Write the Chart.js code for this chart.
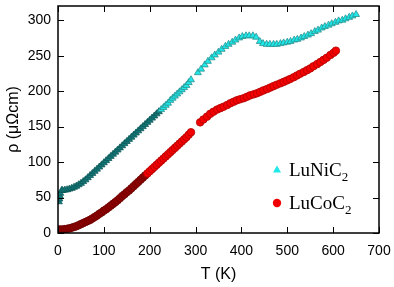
<!DOCTYPE html>
<html>
<head>
<meta charset="utf-8">
<script src="https://cdn.jsdelivr.net/npm/chart.js@4/dist/chart.umd.min.js"></script>
<style>
  html, body { margin: 0; padding: 0; background: #fff; }
  #wrap { width: 394px; height: 287px; }
</style>
</head>
<body>
<div id="wrap"><canvas id="rho"></canvas></div>
<script>
// resistivity vs temperature
var niT = [2, 3, 4, 5, 8, 10, 15, 20, 25, 30, 35, 40, 45, 50, 55, 60, 65, 70, 75, 80, 85, 90, 95, 100,
	105, 110, 115, 120, 125, 130, 135, 140, 145, 150, 155, 160, 165, 170, 175, 180, 185, 190, 195, 200,
	205, 210, 215, 220, 225, 230, 235, 240, 245, 250, 255, 260, 265, 270, 275, 280, 285, 290,
	305, 312, 320, 327, 335, 342, 350, 357, 365, 372, 380, 387, 395, 402, 410, 417, 425, 432, 440, 447,
	455, 462, 470, 477, 485, 492, 500, 507, 515, 522, 530, 537, 545, 552, 560, 567, 575, 582, 590, 597,
	605, 612, 620, 627, 635, 642, 650];
var niRho = [44, 48, 52, 56, 60, 60, 60.5, 61, 62, 63, 64.5, 66, 68, 70, 72.5, 75, 78, 81, 84, 87, 90, 93, 96, 99,
	102, 105, 108, 111, 114, 117, 120, 123, 126, 129, 132, 135, 138, 141, 144, 147, 150, 153, 156, 159,
	162, 165, 168, 171, 174, 177, 180, 183, 187, 190, 193, 196, 199, 202, 205, 208, 212, 216,
	226, 231, 237, 242, 247, 251, 255, 259, 263, 266, 269, 272, 275, 277, 278, 278, 278, 276, 270, 267,
	266, 266, 266, 266, 267, 268, 269, 270, 272, 273, 275, 277, 279, 281, 284, 286, 289, 291, 293, 295,
	297, 299, 300, 302, 304, 306, 308];

var coT = [0, 5, 10, 15, 20, 25, 30, 35, 40, 45, 50, 55, 60, 65, 70, 75, 80, 85, 90, 95, 100,
	105, 110, 115, 120, 125, 130, 135, 140, 145, 150, 155, 160, 165, 170, 175, 180, 185, 190, 195, 200,
	205, 210, 215, 220, 225, 230, 235, 240, 245, 250, 255, 260, 265, 270, 275, 280, 285, 290,
	310, 317, 325, 332, 339, 347, 354, 361, 369, 376, 383, 390, 397, 405, 412, 419, 427, 434, 441, 448,
	456, 463, 470, 477, 485, 492, 499, 506, 514, 521, 528, 536, 543, 550, 557, 565, 572, 579, 586, 594,
	601, 606];
var coRho = [5, 5, 5, 5.5, 6, 6.5, 7.5, 8.5, 9.5, 11, 12.5, 14, 15.5, 17, 18.5, 20.5, 22.5, 24.5, 27, 29, 31.5,
	33.5, 36, 38.5, 41, 43.5, 46, 49, 52, 54.5, 57.5, 60, 63, 66, 69, 72, 75, 78, 81, 84, 87,
	90, 93, 96, 99, 102, 105, 108, 111, 114, 117, 120, 123, 126, 129, 132, 135, 138.5, 142,
	156, 160, 164, 168, 171, 174, 176, 178, 180.5, 183, 185, 187, 188.5, 190, 192, 194, 195.5, 197, 199, 201,
	203, 205, 207, 209, 211, 213, 215, 217, 219.5, 222, 224.5, 227, 229.5, 232, 235, 238, 241, 244, 247, 251,
	254, 257];

var xTicks = [0, 100, 200, 300, 400, 500, 600, 700];
var yTicks = [0, 50, 100, 150, 200, 250, 300];

function pts(t, r) {
	var out = [];
	for (var i = 0; i < t.length; i++) out.push({ x: t[i], y: r[i] });
	return out;
}

// low T part is drawn darker (dense overlapping markers in the original)
function shade(dark, light, cut) {
	return function (ctx) {
		var p = ctx.raw;
		if (!p) return light;
		return p.x < cut ? dark : light;
	};
}

// gnuplot style frame with inward ticks on all four sides
var framePlugin = {
	id: 'frame',
	afterDatasetsDraw: function (chart) {
		var c = chart.ctx, a = chart.chartArea;
		var xs = chart.scales.x, ys = chart.scales.y;
		var len = 6;
		c.save();
		c.strokeStyle = '#000';
		c.lineWidth = 1;
		xTicks.forEach(function (v) {
			var px = Math.round(xs.getPixelForValue(v)) + 0.5;
			c.beginPath();
			c.moveTo(px, a.bottom); c.lineTo(px, a.bottom - len);
			c.moveTo(px, a.top); c.lineTo(px, a.top + len);
			c.stroke();
		});
		yTicks.forEach(function (v) {
			var py = Math.round(ys.getPixelForValue(v)) + 0.5;
			c.beginPath();
			c.moveTo(a.left, py); c.lineTo(a.left + len, py);
			c.moveTo(a.right, py); c.lineTo(a.right - len, py);
			c.stroke();
		});
		c.lineWidth = 1.5;
		c.strokeRect(a.left, a.top, a.right - a.left, a.bottom - a.top);
		c.restore();
	}
};

// legend inside the plot, with subscript 2
var keyPlugin = {
	id: 'key',
	afterDraw: function (chart) {
		var c = chart.ctx, a = chart.chartArea;
		var x0 = a.right - 102, y0 = a.bottom - 63;
		c.save();
		chart.data.datasets.forEach(function (ds, i) {
			var y = y0 + i * 33;
			c.fillStyle = ds.keyColor;
			c.beginPath();
			if (ds.pointStyle === 'triangle') {
				c.moveTo(x0, y - 4.5); c.lineTo(x0 + 4, y + 2.5); c.lineTo(x0 - 4, y + 2.5); c.closePath();
			} else {
				c.arc(x0, y, 4.2, 0, Math.PI * 2);
			}
			c.fill();
			var main = ds.label.replace('₂', '');
			c.fillStyle = '#000';
			c.textBaseline = 'alphabetic';
			c.font = '19px "Liberation Serif", "Times New Roman", serif';
			c.fillText(main, x0 + 12, y + 6);
			var w = c.measureText(main).width;
			c.font = '13px "Liberation Serif", "Times New Roman", serif';
			c.fillText('2', x0 + 12 + w, y + 11);
		});
		c.restore();
	}
};

var ctxa = document.getElementById('rho').getContext('2d');
var rhoChart = new Chart(ctxa, {
	type: 'scatter',
	data: {
		datasets: [
			{
				label: 'LuNiC₂',
				data: pts(niT, niRho),
				pointStyle: 'triangle',
				pointRadius: 4,
				pointBorderWidth: 0.8,
				backgroundColor: shade('#147a7a', '#1ee8e8', 222),
				borderColor: shade('#0c5858', '#2a9090', 222),
				keyColor: '#1ee8e8'
			},
			{
				label: 'LuCoC₂',
				data: pts(coT, coRho),
				pointStyle: 'circle',
				pointRadius: 3.8,
				pointBorderWidth: 0.8,
				backgroundColor: shade('#8e0000', '#f50000', 192),
				borderColor: shade('#6a0000', '#b00000', 192),
				keyColor: '#f00000'
			}
		]
	},
	options: {
		responsive: true,
		maintainAspectRatio: false,
		animation: false,
		layout: { padding: { left: 0, right: 15, top: 6, bottom: 0 } },
		plugins: {
			legend: { display: false },
			tooltip: { enabled: false }
		},
		scales: {
			x: {
				type: 'linear',
				min: 0,
				max: 700,
				afterFit: function (s) { s.height = 54; s.paddingLeft = 0; s.paddingRight = 0; },
				grid: { display: false, drawTicks: false },
				border: { display: false },
				ticks: {
					stepSize: 100,
					padding: 10,
					color: '#000',
					font: { family: '"Liberation Sans", Arial, sans-serif', size: 14 }
				},
				title: {
					display: true,
					text: 'T (K)',
					color: '#000',
					padding: { top: 4, bottom: 3 },
					font: { family: '"Liberation Sans", Arial, sans-serif', size: 16 }
				}
			},
			y: {
				type: 'linear',
				min: 0,
				max: 320,
				afterFit: function (s) { s.width = 58; s.paddingTop = 0; s.paddingBottom = 0; },
				grid: { display: false, drawTicks: false },
				border: { display: false },
				ticks: {
					stepSize: 50,
					includeBounds: false,
					padding: 7,
					color: '#000',
					font: { family: '"Liberation Sans", Arial, sans-serif', size: 14 }
				},
				title: {
					display: true,
					text: 'ρ (μΩcm)',
					color: '#000',
					padding: { top: 4, bottom: 4 },
					font: { family: '"Liberation Sans", Arial, sans-serif', size: 16 }
				}
			}
		}
	},
	plugins: [framePlugin, keyPlugin]
});
</script>
</body>
</html>
